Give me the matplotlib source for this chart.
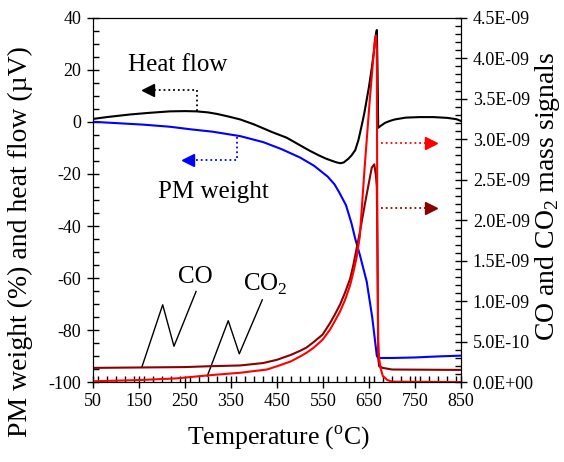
import matplotlib
matplotlib.use("Agg")
import matplotlib.pyplot as plt
from matplotlib.ticker import MultipleLocator, FuncFormatter

plt.rcParams['font.family'] = ['Liberation Serif', 'DejaVu Serif']
plt.rcParams['mathtext.fontset'] = 'custom'
plt.rcParams['mathtext.rm'] = 'Liberation Serif'
plt.rcParams['axes.unicode_minus'] = False

# heat flow (uV) vs temperature (C)
hf_temp = [50, 80, 100, 130, 170, 217, 250, 275, 300, 320, 345, 370, 400, 440, 471, 500,
           520, 540, 556, 570, 580, 588, 595, 605, 612, 620, 627, 634, 640, 645, 650, 656,
           660, 663, 665, 667, 668.5, 670, 675, 685, 695, 706, 730, 760, 790, 820, 840, 850]
heat_flow = [1.1, 1.8, 2.2, 2.8, 3.4, 4.0, 4.1, 4.0, 3.6, 3.0, 2.0, 0.9, -1.0, -4.0, -6.1, -9.0,
             -11.0, -12.8, -14.1, -15.0, -15.6, -15.9, -15.6, -14.2, -12.9, -10.9, -7.0, -1.5, 3.5, 8.5, 13.5, 20.6,
             26.0, 30.7, 33.5, 35.2, 20.0, -2.3, -1.6, -0.4, 0.3, 0.9, 1.6, 1.8, 1.8, 1.5, 1.0, 0.3]

# PM weight (%) vs temperature
pm_temp = [50, 100, 160, 217, 263, 310, 370, 420, 460, 500, 530, 560, 575, 585, 600, 612,
           620, 630, 645, 657, 667, 670, 700, 750, 800, 850]
pm_weight = [0.0, -0.5, -1.1, -1.9, -2.9, -3.8, -5.5, -7.8, -10.5, -13.7, -16.8, -21.0, -24.0, -27.0, -32.0, -39.0,
             -44.8, -51.0, -61.3, -75.0, -89.8, -90.6, -90.6, -90.4, -90.0, -89.7]

# CO2 mass signal vs temperature
co2_temp = [50, 150, 230, 304, 370, 428, 450, 480, 500, 514, 530, 549, 565, 575, 587, 598,
            609, 616, 623, 630, 641, 652, 663, 665, 667, 668, 670, 672, 675, 680, 690, 700, 850]
co2_signal = [0.015e-9, 0.03e-9, 0.05e-9, 0.09e-9, 0.12e-9, 0.16e-9, 0.20e-9, 0.26e-9, 0.32e-9,
              0.366e-9, 0.43e-9, 0.527e-9, 0.65e-9, 0.75e-9, 0.875e-9, 1.02e-9, 1.2e-9, 1.36e-9,
              1.54e-9, 1.8e-9, 2.69e-9, 3.51e-9, 4.24e-9, 4.28e-9, 4.1e-9, 2.0e-9, 0.5e-9,
              0.3e-9, 0.18e-9, 0.08e-9, 0.03e-9, 0.01e-9, 0.005e-9]

# CO mass signal vs temperature
co_temp = [50, 150, 250, 300, 370, 420, 450, 480, 500, 514, 530, 549, 565, 575, 587, 598,
           609, 616, 623, 630, 641, 656, 661.5, 665, 667, 668.5, 670, 672, 680, 700, 850]
co_signal = [0.18e-9, 0.185e-9, 0.19e-9, 0.20e-9, 0.21e-9, 0.24e-9, 0.28e-9, 0.34e-9, 0.39e-9,
             0.43e-9, 0.50e-9, 0.59e-9, 0.73e-9, 0.83e-9, 0.96e-9, 1.11e-9, 1.28e-9, 1.45e-9,
             1.65e-9, 1.85e-9, 2.20e-9, 2.65e-9, 2.69e-9, 2.55e-9, 2.41e-9, 1.5e-9, 0.3e-9,
             0.2e-9, 0.18e-9, 0.16e-9, 0.155e-9]

x_ticks = [50, 150, 250, 350, 450, 550, 650, 750, 850]

fig = plt.figure(figsize=(5.64, 4.62), dpi=100)
ax = fig.add_axes([0.1649, 0.1721, 0.6525, 0.790])
ax2 = ax.twinx()

ax.plot(pm_temp, pm_weight, color='#0000ff', lw=1.5, zorder=3)
ax2.plot(co_temp, co_signal, color='#8b0000', lw=1.5)
ax2.plot(co2_temp, co2_signal, color='#ff0000', lw=1.5)
# heat flow drawn on the twin axes so it sits over the red peak
ax2.plot(hf_temp, [(v + 100) / 140 * 4.5e-9 for v in heat_flow], color='black', lw=1.5, zorder=1)

ax.set_xlim(50, 850)
ax.set_ylim(-100, 40)
ax2.set_ylim(0, 4.5e-9)

ax.set_xticks(x_ticks)
ax.xaxis.set_minor_locator(MultipleLocator(20))
ax.yaxis.set_major_locator(MultipleLocator(20))
ax.yaxis.set_minor_locator(MultipleLocator(5))
ax2.yaxis.set_major_locator(MultipleLocator(0.5e-9))
ax2.yaxis.set_minor_locator(MultipleLocator(0.1e-9))
ax2.yaxis.set_major_formatter(FuncFormatter(lambda v, p: '{:.1E}'.format(v)))

for a in (ax, ax2):
    a.tick_params(which='major', direction='inout', length=9, width=1, labelsize=13)
    a.tick_params(which='minor', direction='in', length=4, width=1)
ax.tick_params(axis='x', pad=3)
ax.tick_params(axis='y', pad=4)
ax2.tick_params(axis='y', pad=4)

ax.set_xlabel('Temperature ($^\\mathregular{o}$C)', fontsize=18.5, va='center')
ax.xaxis.set_label_coords(0.503, -0.15)
ax.set_ylabel('PM weight (%) and heat flow (\u00b5V)', fontsize=20, va='center')
ax.yaxis.set_label_coords(-0.198, 0.385)
ax2.set_ylabel('CO and CO$_\\mathregular{2}$ mass signals', fontsize=20, va='center')
ax2.yaxis.set_label_coords(1.236, 0.511)

# text labels
ax.text(234, 19.5, 'Heat flow', fontsize=18, ha='center', va='baseline')
ax.text(311, -29.3, 'PM weight', fontsize=18, ha='center', va='baseline')
ax.text(272, -62, 'CO', fontsize=18, ha='center', va='baseline')
ax.text(376, -64.7, 'CO$_\\mathregular{2}$', fontsize=18, ha='left', va='baseline')

# zigzag leaders
ax.plot([156, 201.5, 226, 274], [-94.2, -70.2, -86.1, -65.1], color='black', lw=1)
ax.plot([298.5, 344, 368, 418], [-97.5, -76.3, -89.0, -68.3], color='black', lw=1)

# dotted arrows
ax.plot([275, 275, 172], [4.0, 12.3, 12.3], color='black', ls=':', lw=1.3)
ax.plot([170], [12.3], marker='<', color='black', ms=8)
ax.plot([362, 362, 258], [-5.7, -14.6, -14.6], color='#0000ff', ls=':', lw=1.3)
ax.plot([256], [-14.6], marker='<', color='#0000ff', ms=8)
ax2.plot([675, 782], [2.95e-9, 2.95e-9], color='#ff0000', ls=':', lw=1.3)
ax2.plot([784], [2.95e-9], marker='>', color='#ff0000', ms=8)
ax2.plot([675, 782], [2.15e-9, 2.15e-9], color='#8b0000', ls=':', lw=1.3)
ax2.plot([784], [2.15e-9], marker='>', color='#8b0000', ms=8)

fig.savefig('out.png', dpi=100)
